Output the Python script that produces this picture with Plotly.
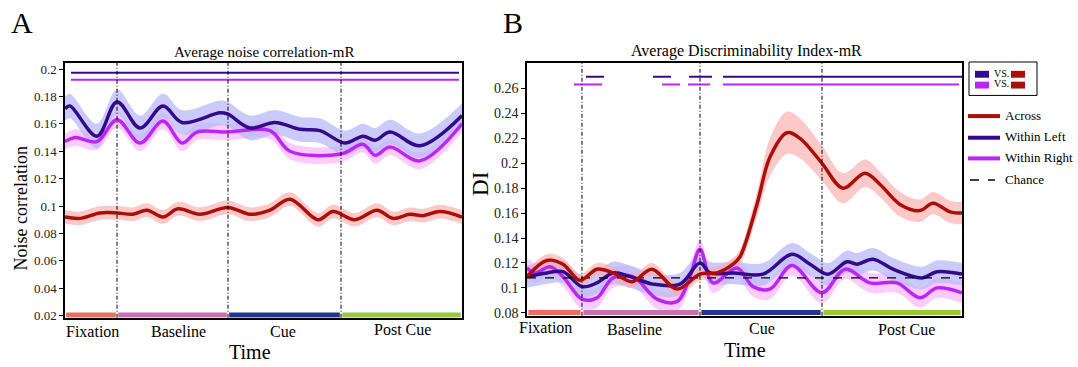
import plotly.graph_objects as go

W, H = 1078, 367
FONT = "Liberation Serif"

# ---------------- Panel A data (time in ms) ----------------
A_epochs = ["Fixation", "Baseline", "Cue", "Post Cue"]
A_bounds = [0, 524, 1642, 2781, 4000]

A_left_t = [0, 50, 322, 524, 756, 987, 1179, 1562, 1642, 1864, 2116, 2368, 2569, 2821, 3003, 3124, 3275, 3577, 4000]
A_left_v = [0.171, 0.173, 0.151, 0.176, 0.157, 0.173, 0.161, 0.168, 0.167, 0.157, 0.161, 0.156, 0.155, 0.146, 0.151, 0.148, 0.154, 0.144, 0.166]
A_left_sem = 0.009

A_right_t = [0, 101, 322, 524, 756, 987, 1179, 1330, 1642, 2066, 2267, 2781, 3003, 3124, 3275, 3577, 4000]
A_right_v = [0.147, 0.150, 0.147, 0.163, 0.146, 0.162, 0.146, 0.154, 0.154, 0.155, 0.140, 0.138, 0.145, 0.137, 0.143, 0.133, 0.160]
A_right_sem = 0.006

A_across_t = [0, 151, 353, 524, 685, 826, 987, 1139, 1360, 1642, 1864, 2066, 2267, 2549, 2700, 2922, 3144, 3305, 3476, 3607, 3778, 4000]
A_across_v = [0.092, 0.091, 0.095, 0.095, 0.094, 0.097, 0.092, 0.098, 0.094, 0.099, 0.094, 0.097, 0.105, 0.090, 0.096, 0.090, 0.097, 0.091, 0.094, 0.093, 0.096, 0.092]
A_across_sem = 0.005

A_sig_left = [[60, 3970]]
A_sig_right = [[60, 3970]]
A_sig_left_y = 0.1972
A_sig_right_y = 0.1922

A_yticks = [0.02, 0.04, 0.06, 0.08, 0.1, 0.12, 0.14, 0.16, 0.18, 0.2]
A_yticktext = ["0.02", "0.04", "0.06", "0.08", "0.1", "0.12", "0.14", "0.16", "0.18", "0.2"]

# ---------------- Panel B data (time in ms) ----------------
B_bounds = [0, 556, 1750, 2984, 4400]

B_across_t = [0, 202, 364, 536, 708, 870, 1062, 1264, 1517, 1750, 1922, 2084, 2155, 2326, 2458, 2630, 2761, 2984, 3196, 3419, 3571, 3773, 3975, 4107, 4279, 4400]
B_across_v = [0.109, 0.122, 0.119, 0.106, 0.115, 0.112, 0.105, 0.115, 0.099, 0.111, 0.112, 0.119, 0.125, 0.167, 0.205, 0.2245, 0.220, 0.200, 0.180, 0.192, 0.183, 0.167, 0.162, 0.168, 0.161, 0.160]
B_across_sem = [0.005, 0.005, 0.005, 0.005, 0.005, 0.005, 0.005, 0.005, 0.005, 0.005, 0.005, 0.005, 0.006, 0.010, 0.015, 0.017, 0.016, 0.014, 0.012, 0.011, 0.010, 0.010, 0.009, 0.009, 0.009, 0.009]

B_left_t = [0, 202, 364, 556, 708, 870, 1042, 1274, 1548, 1750, 1851, 2084, 2387, 2680, 2863, 3045, 3237, 3338, 3500, 3702, 3995, 4147, 4400]
B_left_v = [0.109, 0.112, 0.113, 0.101, 0.104, 0.112, 0.109, 0.103, 0.103, 0.120, 0.112, 0.112, 0.111, 0.127, 0.119, 0.111, 0.121, 0.119, 0.123, 0.115, 0.108, 0.113, 0.111]
B_left_sem = 0.009

B_right_t = [0, 81, 233, 364, 556, 708, 870, 1072, 1315, 1517, 1649, 1750, 1881, 2124, 2286, 2458, 2680, 2984, 3217, 3469, 3742, 3975, 4147, 4400]
B_right_v = [0.116, 0.112, 0.117, 0.109, 0.091, 0.092, 0.108, 0.109, 0.091, 0.089, 0.109, 0.131, 0.104, 0.116, 0.101, 0.099, 0.118, 0.096, 0.115, 0.104, 0.104, 0.092, 0.100, 0.096]
B_right_sem = 0.008

B_chance = 0.108
B_sig_left = [[597, 779], [1274, 1457], [1639, 1871], [1983, 4400]]
B_sig_right = [[475, 759], [1366, 1548], [1628, 1851], [1983, 4370]]
B_sig_left_y = 0.2695
B_sig_right_y = 0.2632

B_yticks = [0.08, 0.1, 0.12, 0.14, 0.16, 0.18, 0.2, 0.22, 0.24, 0.26]
B_yticktext = ["0.08", "0.1", "0.12", "0.14", "0.16", "0.18", "0.2", "0.22", "0.24", "0.26"]

legend_labels = ["Across", "Within Left", "Within Right", "Chance"]

# ---------------- styles ----------------
C_RED = "rgb(172,14,10)"
C_PUR = "rgb(52,10,138)"
C_MAG = "rgb(188,38,245)"
F_RED = "rgba(250,170,170,0.65)"
F_PUR = "rgba(185,185,250,0.75)"
F_MAG = "rgba(250,185,250,0.75)"
EPOCH_COLORS = ["rgb(230,112,90)", "rgb(200,112,178)", "rgb(35,52,145)", "rgb(152,200,62)"]
VDASH = "4px,2px,1px,2px"


def px(x):
    return x / W


def py(y):
    return 1 - y / H


fig = go.Figure()


def band(t, v, sem, fill, xa, ya):
    if not isinstance(sem, list):
        sem = [sem] * len(v)
    up = [a + s for a, s in zip(v, sem)]
    lo = [a - s for a, s in zip(v, sem)]
    fig.add_trace(go.Scatter(x=t, y=lo, mode="lines", line=dict(width=0, shape="spline", smoothing=1.0),
                             hoverinfo="skip", showlegend=False, xaxis=xa, yaxis=ya))
    fig.add_trace(go.Scatter(x=t, y=up, mode="lines", line=dict(width=0, shape="spline", smoothing=1.0),
                             fill="tonexty", fillcolor=fill, hoverinfo="skip", showlegend=False,
                             xaxis=xa, yaxis=ya))


def curve(t, v, color, xa, ya):
    fig.add_trace(go.Scatter(x=t, y=v, mode="lines", line=dict(color=color, width=3.5, shape="spline", smoothing=1.0),
                             showlegend=False, xaxis=xa, yaxis=ya))


def segs(segments, yv, color, xa, ya):
    xs, ys = [], []
    for a, b in segments:
        xs += [a, b, None]
        ys += [yv, yv, None]
    fig.add_trace(go.Scatter(x=xs, y=ys, mode="lines", line=dict(color=color, width=2),
                             showlegend=False, xaxis=xa, yaxis=ya))


def epoch_bars(bounds, yv, xa, ya, gap):
    for i in range(4):
        fig.add_trace(go.Scatter(x=[bounds[i] + gap, bounds[i + 1] - gap], y=[yv, yv], mode="lines",
                                 line=dict(color=EPOCH_COLORS[i], width=5), showlegend=False,
                                 xaxis=xa, yaxis=ya))


# Panel A
band(A_across_t, A_across_v, A_across_sem, F_RED, "x", "y")
band(A_right_t, A_right_v, A_right_sem, F_MAG, "x", "y")
band(A_left_t, A_left_v, A_left_sem, F_PUR, "x", "y")
curve(A_across_t, A_across_v, C_RED, "x", "y")
curve(A_right_t, A_right_v, C_MAG, "x", "y")
curve(A_left_t, A_left_v, C_PUR, "x", "y")
segs(A_sig_left, A_sig_left_y, C_PUR, "x", "y")
segs(A_sig_right, A_sig_right_y, C_MAG, "x", "y")
epoch_bars(A_bounds, 0.0205, "x", "y", 12)

# Panel B
band(B_right_t, B_right_v, B_right_sem, F_MAG, "x2", "y2")
band(B_left_t, B_left_v, B_left_sem, F_PUR, "x2", "y2")
band(B_across_t, B_across_v, B_across_sem, F_RED, "x2", "y2")
curve(B_right_t, B_right_v, C_MAG, "x2", "y2")
curve(B_left_t, B_left_v, C_PUR, "x2", "y2")
fig.add_trace(go.Scatter(x=[0, 4400], y=[B_chance, B_chance], mode="lines",
                         line=dict(color="black", width=1.3, dash="dash"), showlegend=False,
                         xaxis="x2", yaxis="y2"))
curve(B_across_t, B_across_v, C_RED, "x2", "y2")
segs(B_sig_left, B_sig_left_y, C_PUR, "x2", "y2")
segs(B_sig_right, B_sig_right_y, C_MAG, "x2", "y2")
epoch_bars(B_bounds, 0.0802, "x2", "y2", 14)

shapes = []
for b in A_bounds[1:4]:
    shapes.append(dict(type="line", xref="x", yref="y domain", x0=b, x1=b, y0=0, y1=1,
                       line=dict(color="black", width=1, dash=VDASH)))
for b in B_bounds[1:4]:
    shapes.append(dict(type="line", xref="x2", yref="y2 domain", x0=b, x1=b, y0=0, y1=1,
                       line=dict(color="black", width=1, dash=VDASH)))

# custom legend (panel B)
shapes.append(dict(type="rect", xref="paper", yref="paper", x0=px(969), x1=px(1037), y0=py(96), y1=py(62),
                   line=dict(color="black", width=1), fillcolor="white"))
for (x0, x1, y0, y1, c) in [(975, 989, 71, 78, C_PUR), (1011, 1025, 71, 78, C_RED),
                            (975, 989, 82, 89, C_MAG), (1011, 1025, 82, 89, C_RED)]:
    shapes.append(dict(type="rect", xref="paper", yref="paper", x0=px(x0), x1=px(x1), y0=py(y1), y1=py(y0),
                       line=dict(width=0), fillcolor=c))
leg_y = [117, 139, 160, 182]
leg_col = [C_RED, C_PUR, C_MAG, "black"]
for i, (yy, c) in enumerate(zip(leg_y, leg_col)):
    if i < 3:
        shapes.append(dict(type="line", xref="paper", yref="paper", x0=px(968), x1=px(1000), y0=py(yy), y1=py(yy),
                           line=dict(color=c, width=4)))
    else:
        shapes.append(dict(type="line", xref="paper", yref="paper", x0=px(970), x1=px(995), y0=py(yy), y1=py(yy),
                           line=dict(color=c, width=1.3, dash="dash")))

ann = []


def text(x, y, s, size, anchor="center", angle=0):
    ann.append(dict(x=px(x), y=py(y), xref="paper", yref="paper", text=s, showarrow=False,
                    font=dict(family=FONT, size=size, color="black"), xanchor=anchor, yanchor="middle",
                    textangle=angle))


text(22, 22, "A", 30)
text(513, 22, "B", 30)
text(264, 52, "Average noise correlation-mR", 15)
text(746, 51, "Average Discriminability Index-mR", 16)
text(21, 211, "Noise correlation", 18, angle=-90)
text(481, 186, "DI", 23, angle=-90)
for s, x, y in zip(A_epochs, [92, 178, 283, 402], [336, 336, 336, 334]):
    text(x, y, s, 16)
text(250, 357, "Time", 20)
for s, x, y in zip(A_epochs, [545, 634, 762, 906], [332, 334, 333, 334]):
    text(x, y, s, 16)
text(745, 355, "Time", 20)
for s, yy in zip(legend_labels, leg_y):
    text(1003, yy - 1, s, 13, anchor="left")
text(992, 74, "VS.", 10, anchor="left")
text(992, 84, "VS.", 10, anchor="left")

axis_common = dict(showline=True, linecolor="black", linewidth=1.5, mirror=True, showgrid=False, zeroline=False)
fig.update_layout(
    width=W, height=H, margin=dict(l=0, r=0, t=0, b=0, pad=0),
    paper_bgcolor="white", plot_bgcolor="white", showlegend=False,
    xaxis=dict(domain=[px(65), px(462)], range=[0, 4000], showticklabels=False, ticks="", anchor="y", **axis_common),
    yaxis=dict(domain=[py(322), py(63)], range=[0.0185, 0.2044], tickvals=A_yticks, ticktext=A_yticktext,
               ticks="outside", ticklen=4, tickcolor="black", anchor="x",
               tickfont=dict(family=FONT, size=13, color="#222"), **axis_common),
    xaxis2=dict(domain=[px(527), px(962)], range=[0, 4400], showticklabels=False, ticks="", anchor="y2", **axis_common),
    yaxis2=dict(domain=[py(320), py(63)], range=[0.0776, 0.2805], tickvals=B_yticks, ticktext=B_yticktext,
                ticks="outside", ticklen=4, tickcolor="black", anchor="x2",
                tickfont=dict(family=FONT, size=14, color="#222"), **axis_common),
    shapes=shapes, annotations=ann,
)

fig.write_html("out.html")
